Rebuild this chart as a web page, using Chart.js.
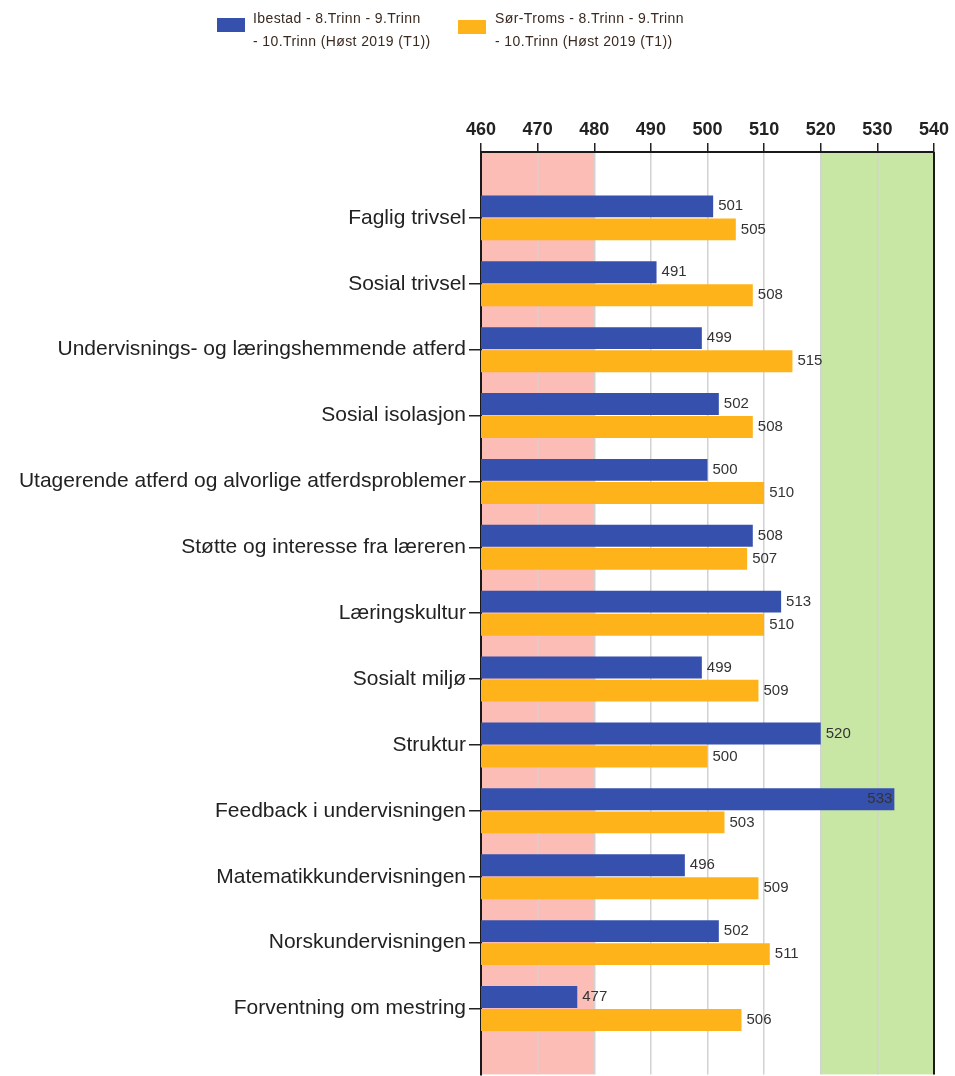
<!DOCTYPE html>
<html>
<head>
<meta charset="utf-8">
<script src="https://cdn.jsdelivr.net/npm/chart.js@4/dist/chart.umd.min.js"></script>
<style>
  body { margin: 0; background: #fff; overflow: hidden; }
  #wrap { position: relative; width: 955px; height: 1090px; }
  #legend { position: absolute; top: 0; left: 0; width: 955px; height: 60px; font-family: "Liberation Sans", Arial, sans-serif; font-size: 14px; letter-spacing: 0.4px; color: #3a2a20; }
  .item { position: absolute; top: 7px; line-height: 23px; }
  .box { position: absolute; width: 28px; height: 14px; }
</style>
</head>
<body>
<div id="wrap">
  <canvas id="chart" width="955" height="1090"></canvas>
  <div id="legend"></div>
</div>
<script>
const categories = [
  "Faglig trivsel",
  "Sosial trivsel",
  "Undervisnings- og læringshemmende atferd",
  "Sosial isolasjon",
  "Utagerende atferd og alvorlige atferdsproblemer",
  "Støtte og interesse fra læreren",
  "Læringskultur",
  "Sosialt miljø",
  "Struktur",
  "Feedback i undervisningen",
  "Matematikkundervisningen",
  "Norskundervisningen",
  "Forventning om mestring"
];
const seriesNames = [
  ["Ibestad - 8.Trinn - 9.Trinn", "- 10.Trinn (Høst 2019 (T1))"],
  ["Sør-Troms - 8.Trinn - 9.Trinn", "- 10.Trinn (Høst 2019 (T1))"]
];
const ibestad = [501, 491, 499, 502, 500, 508, 513, 499, 520, 533, 496, 502, 477];
const sorTroms = [505, 508, 515, 508, 510, 507, 510, 509, 500, 503, 509, 511, 506];
const xTicks = [460, 470, 480, 490, 500, 510, 520, 530, 540];
const lowBand = [460, 480];
const highBand = [520, 540];

const colors = ["#3650ae", "#ffb31a"];

// html legend
const legend = document.getElementById("legend");
const legendX = [[217, 253], [458, 495]];
seriesNames.forEach((lines, i) => {
  const box = document.createElement("div");
  box.className = "box";
  box.style.left = legendX[i][0] + "px";
  box.style.top = (i === 0 ? 18 : 20) + "px";
  box.style.background = colors[i];
  legend.appendChild(box);
  const txt = document.createElement("div");
  txt.className = "item";
  txt.style.left = legendX[i][1] + "px";
  txt.innerHTML = lines.join("<br>");
  legend.appendChild(txt);
});

const toPoints = vals => vals.map((v, i) => ({ x: v, y: i + 1 }));

const bandsPlugin = {
  id: "bands",
  beforeDraw(chart) {
    const { ctx, chartArea, scales } = chart;
    const x = scales.x;
    ctx.save();
    ctx.fillStyle = "#fbbdb6";
    ctx.fillRect(x.getPixelForValue(lowBand[0]), chartArea.top,
      x.getPixelForValue(lowBand[1]) - x.getPixelForValue(lowBand[0]), chartArea.bottom - chartArea.top);
    ctx.fillStyle = "#c8e7a4";
    ctx.fillRect(x.getPixelForValue(highBand[0]), chartArea.top,
      x.getPixelForValue(highBand[1]) - x.getPixelForValue(highBand[0]), chartArea.bottom - chartArea.top);
    ctx.restore();
  },
  afterDraw(chart) {
    const { ctx, chartArea } = chart;
    ctx.save();
    ctx.strokeStyle = "#1a1a1a";
    ctx.lineWidth = 2;
    ctx.beginPath();
    ctx.moveTo(chartArea.right, chartArea.top);
    ctx.lineTo(chartArea.right, chartArea.bottom);
    ctx.stroke();
    ctx.restore();
  }
};

const valueLabels = {
  id: "valueLabels",
  afterDatasetsDraw(chart) {
    const { ctx, chartArea } = chart;
    ctx.save();
    ctx.font = "15px 'Liberation Sans', Arial, sans-serif";
    ctx.fillStyle = "#333";
    ctx.textBaseline = "middle";
    chart.data.datasets.forEach((ds, di) => {
      chart.getDatasetMeta(di).data.forEach((bar, i) => {
        const text = String(ds.data[i].x);
        const w = ctx.measureText(text).width;
        // no room on the right: put the number inside the bar end
        if (bar.x + 5 + w > chartArea.right - 20) {
          ctx.textAlign = "right";
          ctx.fillText(text, bar.x - 2, bar.y);
        } else {
          ctx.textAlign = "left";
          ctx.fillText(text, bar.x + 5, bar.y);
        }
      });
    });
    ctx.restore();
  }
};

new Chart(document.getElementById("chart"), {
  type: "bar",
  data: {
    datasets: [
      { label: seriesNames[0].join(" "), data: toPoints(ibestad), backgroundColor: colors[0] },
      { label: seriesNames[1].join(" "), data: toPoints(sorTroms), backgroundColor: colors[1] }
    ]
  },
  options: {
    indexAxis: "y",
    responsive: false,
    animation: false,
    categoryPercentage: 0.7,
    barPercentage: 0.95,
    layout: { padding: { top: 112, right: 21, bottom: 8, left: 0 } },
    plugins: { legend: { display: false }, tooltip: { enabled: false } },
    scales: {
      x: {
        type: "linear",
        position: "top",
        min: 460,
        max: 540,
        afterBuildTicks: s => { s.ticks = xTicks.map(v => ({ value: v })); },
        afterFit: s => { s.height = 40; },
        ticks: {
          color: "#222",
          padding: 2,
          font: { family: "'Liberation Sans', Arial, sans-serif", size: 18, weight: "bold" }
        },
        grid: { color: "#d2d2d2", lineWidth: 1.5, tickColor: "#222", tickLength: 9 },
        border: { color: "#1a1a1a", width: 2 }
      },
      y: {
        type: "linear",
        reverse: true,
        offset: false,
        min: 0,
        max: 14,
        afterBuildTicks: s => { s.ticks = categories.map((c, i) => ({ value: i + 1 })); },
        afterFit: s => { s.width = 481; },
        ticks: {
          color: "#222",
          padding: 3,
          callback: v => categories[v - 1] || "",
          font: { family: "'Liberation Sans', Arial, sans-serif", size: 21 }
        },
        grid: { drawOnChartArea: false, offset: false, color: "#222", tickLength: 12, lineWidth: 1.5 },
        border: { color: "#1a1a1a", width: 2 }
      }
    }
  },
  plugins: [bandsPlugin, valueLabels]
});
</script>
</body>
</html>
